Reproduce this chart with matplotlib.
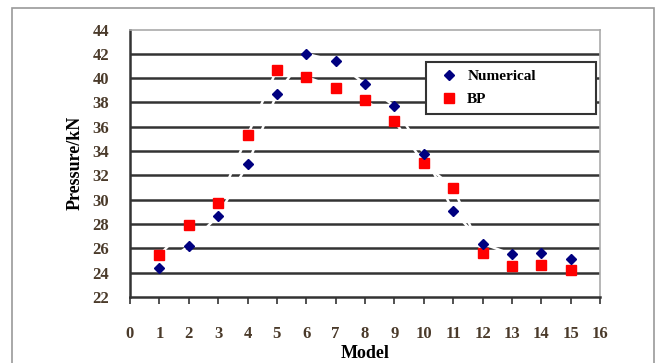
import matplotlib.pyplot as plt
from matplotlib.patches import Rectangle

models = list(range(1, 16))
numerical = [24.4, 26.2, 28.7, 32.9, 38.7, 42.0, 41.4, 39.5, 37.7, 33.8, 29.1, 26.4, 25.5, 25.6, 25.1]
bp = [25.45, 27.95, 29.7, 35.3, 40.7, 40.1, 39.2, 38.2, 36.5, 33.0, 31.0, 25.6, 24.55, 24.6, 24.2]
xticks = list(range(0, 17))
yticks = list(range(22, 45, 2))

serif = 'Liberation Serif'
tick_col = '#4a3a2a'

fig = plt.figure(figsize=(6.63, 3.63), dpi=100)
ax = fig.add_axes([130/663, 1-297/363, 470/663, (297-29.5)/363])

# outer frame
fig.patches.append(Rectangle((12/663, -0.1), 642/663, 1.1-8/363, transform=fig.transFigure,
                             fill=False, edgecolor='#9a9a9a', linewidth=1.2))

# gridlines
for v in yticks[1:-1]:
    ax.axhline(v, color='#333333', linewidth=1.8, zorder=1)

# white connecting lines (only show where they cut the gridlines)
ax.plot(models, numerical, color='white', linewidth=1.8, zorder=2)
ax.plot(models, bp, color='white', linewidth=1.8, zorder=2)

ax.plot(models, numerical, linestyle='none', marker='D', markersize=5, color='#000080',
        label='Numerical', zorder=4)
ax.plot(models, bp, linestyle='none', marker='s', markersize=6.5, color='#ff0000',
        label='BP', zorder=3)

ax.set_xlim(0, 16)
ax.set_ylim(22, 44)
ax.set_xticks(xticks)
ax.set_yticks(yticks)
ax.tick_params(axis='x', direction='out', length=5, width=1.2, color='#333333', pad=16,
               labelsize=12, labelcolor=tick_col)
ax.tick_params(axis='y', length=0, pad=15, labelsize=12, labelcolor=tick_col)
for lab in ax.get_xticklabels() + ax.get_yticklabels():
    lab.set_family(serif)
    lab.set_fontweight('bold')

for s in ['left', 'bottom']:
    ax.spines[s].set_color('#333333')
    ax.spines[s].set_linewidth(1.8)
for s in ['top', 'right']:
    ax.spines[s].set_color('#aaaaaa')
    ax.spines[s].set_linewidth(1.2)

ax.set_xlabel('Model', family=serif, fontweight='bold', fontsize=13, labelpad=2)
ax.set_ylabel('Pressure/kN', family=serif, fontweight='bold', fontsize=13, labelpad=6)

top = (297-61.7)/267.5
leg = ax.legend(loc='upper left', bbox_to_anchor=((426-130)/470, top-0.2, (596-426)/470, 0.2),
                mode='expand',
                prop={'family': serif, 'weight': 'bold', 'size': 11},
                frameon=True, fancybox=False, borderpad=0.5, labelspacing=0.6,
                handletextpad=0.2, handlelength=2.0, borderaxespad=0)
leg.get_frame().set_edgecolor('#333333')
leg.get_frame().set_linewidth(1.5)
leg.get_frame().set_alpha(1)
leg.set_zorder(5)

fig.savefig('out.png', dpi=100)
